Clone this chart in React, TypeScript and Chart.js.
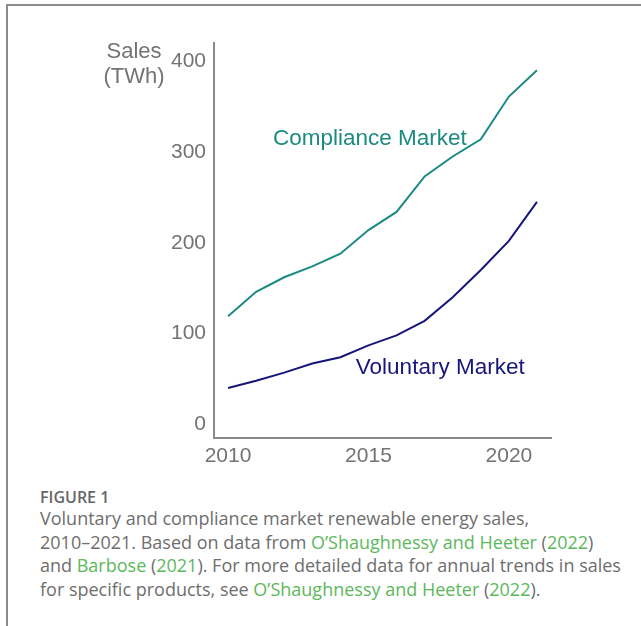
import React, { useEffect, useRef } from "react";
import { Chart, registerables } from "chart.js";

Chart.register(...registerables);

const years = [2010, 2011, 2012, 2013, 2014, 2015, 2016, 2017, 2018, 2019, 2020, 2021];
const compliance = [119, 146, 162, 174, 188, 214, 234, 273, 295, 314, 361, 390];
const voluntary = [40, 48, 57, 67, 74, 87, 98, 114, 140, 170, 202, 245];
const yTicks = [0, 100, 200, 300, 400];
const xTicks = [2010, 2015, 2020];
const seriesLabels = [
  { text: "Compliance Market", x: 2011.6, y: 315, color: "#1b8a82" },
  { text: "Voluntary Market", x: 2014.55, y: 62, color: "#16167a" },
];
const yTitle = ["Sales", "(TWh)"];

const GRAY = "#737373";
const FONT = "'Liberation Sans', Arial, sans-serif";

export default function App() {
  const ref = useRef<HTMLCanvasElement | null>(null);
  useEffect(() => {
    if (!ref.current) return;
    const labelPlugin = {
      id: "labels",
      afterDatasetsDraw(chart: any) {
        const ctx = chart.ctx;
        const xs = chart.scales.x;
        const ys = chart.scales.y;
        ctx.save();
        ctx.font = "22.5px " + FONT;
        ctx.textBaseline = "middle";
        ctx.textAlign = "left";
        for (const l of seriesLabels) {
          ctx.fillStyle = l.color;
          ctx.fillText(l.text, xs.getPixelForValue(l.x), ys.getPixelForValue(l.y));
        }
        ctx.font = "22px " + FONT;
        ctx.fillStyle = GRAY;
        ctx.textAlign = "center";
        const cx = chart.chartArea.left - 80;
        ctx.fillText(yTitle[0], cx, 52);
        ctx.fillText(yTitle[1], cx, 77);
        ctx.restore();
      },
    };
    const chart = new Chart(ref.current, {
      type: "line",
      data: {
        datasets: [
          {
            label: "Compliance Market",
            data: years.map((y, i) => ({ x: y, y: compliance[i] })),
            borderColor: "#1b8a82",
            borderWidth: 2,
            pointRadius: 0,
            tension: 0,
          },
          {
            label: "Voluntary Market",
            data: years.map((y, i) => ({ x: y, y: voluntary[i] })),
            borderColor: "#16167a",
            borderWidth: 2,
            pointRadius: 0,
            tension: 0,
          },
        ],
      },
      options: {
        animation: false,
        responsive: false,
        maintainAspectRatio: false,
        layout: { padding: { top: 43, right: 90, left: 0, bottom: 0 } },
        plugins: { legend: { display: false }, tooltip: { enabled: false } },
        scales: {
          x: {
            type: "linear",
            min: 2009.5,
            max: 2021.5,
            afterBuildTicks: (s: any) => {
              s.ticks = xTicks.map((v) => ({ value: v }));
            },
            afterFit: (s: any) => {
              s.height = 32;
            },
            grid: { display: false, drawTicks: false },
            border: { display: true, color: "#8a8a8a", width: 2 },
            ticks: {
              color: GRAY,
              padding: 6,
              maxRotation: 0,
              autoSkip: false,
              font: { size: 21, family: FONT },
              callback: (v: any) => String(v),
            },
          },
          y: {
            type: "linear",
            min: -15,
            max: 420,
            afterBuildTicks: (s: any) => {
              s.ticks = yTicks.map((v) => ({ value: v }));
            },
            afterFit: (s: any) => {
              s.width = 214;
            },
            grid: { display: false, drawTicks: false },
            border: { display: true, color: "#8a8a8a", width: 2 },
            ticks: {
              color: GRAY,
              padding: 8,
              autoSkip: false,
              font: { size: 21, family: FONT },
              callback: (v: any) => String(v),
            },
          },
        },
      },
      plugins: [labelPlugin],
    } as any);
    return () => chart.destroy();
  }, []);

  const link = { color: "#5cb85c" };
  return (
    <div
      style={{
        position: "fixed",
        left: 0,
        top: 0,
        width: 641,
        height: 626,
        background: "#fff",
        overflow: "hidden",
      }}
    >
      <div
        style={{
          position: "absolute",
          left: 6,
          top: 4,
          width: 700,
          height: 700,
          borderTop: "2px solid #8c8c8c",
          borderLeft: "2px solid #8c8c8c",
        }}
      />
      <canvas
        ref={ref}
        width={641}
        height={470}
        style={{ position: "absolute", left: 0, top: 0, width: 641, height: 470 }}
      />
      <div
        style={{
          position: "absolute",
          left: 40,
          top: 486,
          fontFamily: "'Open Sans', sans-serif",
          fontWeight: 600,
          fontSize: 16,
          color: "#666",
        }}
      >
        FIGURE 1
      </div>
      <div
        style={{
          position: "absolute",
          left: 40,
          top: 507,
          fontFamily: "'Open Sans', sans-serif",
          fontSize: 18,
          lineHeight: "23.6px",
          color: "#6e6e6e",
          whiteSpace: "nowrap",
        }}
      >
        Voluntary and compliance market renewable energy sales,
        <br />
        2010–2021. Based on data from <span style={link}>O’Shaughnessy and Heeter</span> (<span style={link}>2022</span>)
        <br />
        and <span style={link}>Barbose</span> (<span style={link}>2021</span>). For more detailed data for annual trends in sales
        <br />
        for specific products, see <span style={link}>O’Shaughnessy and Heeter</span> (<span style={link}>2022</span>).
      </div>
    </div>
  );
}
